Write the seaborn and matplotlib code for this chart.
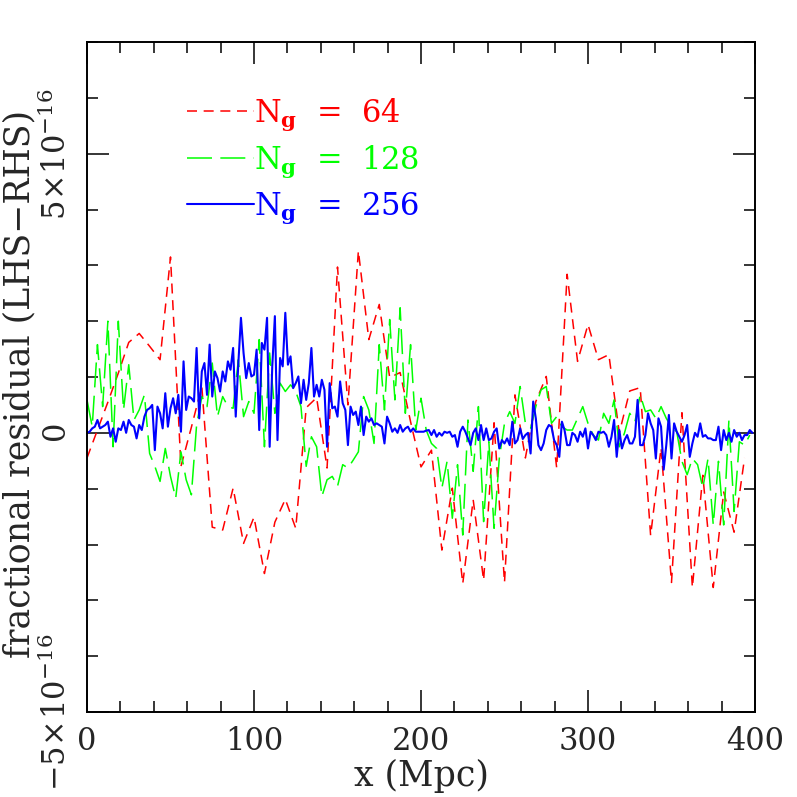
import numpy as np
import pandas as pd
import matplotlib
matplotlib.use("Agg")
import matplotlib.pyplot as plt
from matplotlib.ticker import MultipleLocator
import seaborn as sns

# ---- data (values in units of 1e-16) ----
x_max = 400.0
red_64 = [-0.45, 0.05, 0.55, 1.07, 1.62, 1.78, 1.55, 1.31, 3.15, -0.6,
          0.1, 0.83, -1.69, -1.74, -0.99, -1.98, -1.51, -2.52, -1.6, -1.19,
          -1.71, 0.45, 0.63, -0.63, 2.97, 0.5, 3.26, 1.67, 2.3, 0.99,
          1.08, 0.2, -0.61, -0.31, -2.1, -0.99, -2.7, -1.2, -2.64, 0.18,
          -2.68, 0.68, -0.45, 0.56, 1.01, -0.63, 2.84, 1.28, 1.94, 1.31,
          1.4, 0.0, 0.75, 0.81, -1.84, -0.27, -2.68, 0.36, -2.77, -0.76,
          -2.77, -1.06, -1.78, -0.45]
green_128 = [0.59, 0.11, 1.58, 0.47, 2.0, -0.25, 2.0, 0.41, 1.22, 0.23,
             0.41, 0.68, -0.37, -0.6, -0.87, -0.28, -0.78, -1.17, -0.34, -0.84,
             -1.11, 0.14, 0.65, 0.47, 1.25, 0.29, 0.65, 0.47, 0.44, 1.31,
             0.29, 0.56, 0.35, 1.67, -0.25, 1.43, 0.35, 0.89, 0.74, 0.86,
             0.74, 0.47, -0.6, -0.07, -0.25, -1.14, -0.84, -0.78, -0.96, -0.57,
             -0.63, -0.49, -0.34, 0.65, 0.41, -0.19, 1.58, 0.41, 2.03, 0.59,
             2.24, 0.35, 1.58, 0.05, 0.62, 0.05, -0.19, -0.28, -0.99, -0.51,
             -1.53, -0.57, -1.83, 0.23, -0.69, 0.47, -1.59, -0.16, -1.71, -0.46,
             0.17, 0.38, 0.17, 0.83, 0.17, 0.08, 0.47, 0.77, 0.83, 0.17,
             0.29, 0.11, 0.05, 0.05, 0.26, 0.47, 0.17, -0.04, -0.13, 0.35,
             0.17, 0.59, -0.25, 0.0, 0.35, 0.2, 0.68, 0.38, 0.41, 0.26,
             0.47, 0.26, 0.11, 0.02, -0.51, -0.75, -0.46, -0.57, -0.99, -0.46,
             -1.65, -0.51, -1.65, 0.23, -1.41, -0.16, -0.22, -0.04]
blue_256 = [0.0, 0.02, 0.08, 0.11, 0.23, 0.08, 0.11, 0.14, 0.2, -0.07,
            0.08, -0.16, 0.08, 0.05, 0.2, 0.0, 0.23, 0.14, 0.11, -0.1,
            0.14, 0.05, 0.29, 0.41, 0.44, 0.5, -0.31, 0.47, 0.35, 0.08,
            0.71, 0.11, 0.44, 0.62, 0.35, 0.68, 0.02, 1.28, 0.41, 0.65,
            0.62, 0.56, 1.52, 0.26, 1.1, 1.25, 0.68, 1.58, 0.65, 1.1,
            0.98, 0.74, 1.1, 0.92, 1.28, 1.13, 1.52, 0.29, 1.25, 2.06,
            1.43, 0.98, 1.25, 1.01, 1.04, 1.49, 0.05, 1.61, 1.49, 2.06,
            -0.25, 1.19, 2.09, -0.13, 1.34, 1.19, 2.15, 1.22, 1.37, 0.8,
            0.89, 1.01, 0.53, 0.95, 0.59, 0.89, 1.52, 0.65, 0.86, 0.65,
            0.95, 0.77, -0.25, 0.89, 0.44, 0.47, 0.29, 0.92, 0.53, 0.41,
            -0.22, 0.47, 0.32, 0.38, 0.14, 0.47, -0.04, 0.29, 0.2, 0.26,
            0.14, 0.17, 0.14, 0.11, -0.19, 0.29, 0.17, 0.02, 0.08, 0.0,
            0.14, 0.02, 0.08, 0.11, 0.02, 0.08, 0.02, 0.02, 0.02, 0.02,
            0.04, 0.05, -0.04, 0.05, -0.07, 0.0, -0.05, 0.02, 0.0, 0.02,
            -0.07, -0.04, -0.25, 0.02, 0.11, 0.02, -0.1, -0.22, 0.0, 0.08,
            -0.13, 0.14, -0.13, 0.08, -0.13, -0.1, 0.02, 0.08, -0.28, -0.13,
            -0.19, -0.1, -0.22, 0.2, -0.19, -0.13, 0.08, -0.11, -0.04, 0.0,
            -0.37, 0.56, 0.26, -0.22, -0.31, -0.19, 0.05, 0.14, 0.11, -0.13,
            -0.22, -0.43, 0.2, 0.05, -0.22, -0.22, 0.0, -0.04, -0.16, 0.02,
            -0.07, 0.08, -0.28, 0.02, -0.04, -0.13, 0.02, 0.0, 0.02, -0.04,
            -0.25, -0.07, 0.23, -0.43, 0.05, -0.28, -0.13, -0.04, -0.19, -0.19,
            -0.07, 0.59, -0.22, -0.22, -0.04, 0.35, 0.17, 0.05, -0.46, 0.26,
            0.11, -0.66, -0.22, 0.32, -0.46, 0.17, 0.02, -0.07, -0.16, -0.04,
            0.14, -0.43, -0.19, 0.0, -0.07, 0.17, -0.07, -0.04, -0.1, -0.1,
            -0.13, -0.13, 0.11, -0.31, 0.05, -0.13, 0.0, -0.16, 0.05, -0.07,
            0.0, -0.13, -0.04, -0.04, 0.05, 0.0]
scale = 1e-16
labels = [r"N$_{\mathbf{g}}$  =  64", r"N$_{\mathbf{g}}$  =  128", r"N$_{\mathbf{g}}$  =  256"]
ytick_vals = [-5e-16, 0.0, 5e-16]
ytick_labels = [r"$-5\!\times\!10^{-16}$", r"$0$", r"$5\!\times\!10^{-16}$"]
xtick_vals = [0, 100, 200, 300, 400]

def grid_x(n):
    return np.arange(n) * (x_max / n)

# ---- style ----
sns.set_style("ticks")
plt.rcParams["font.family"] = ["DejaVu Serif"]
plt.rcParams["mathtext.fontset"] = "dejavuserif"
plt.rcParams["lines.scale_dashes"] = False

fig = plt.figure(figsize=(7.97, 7.97), dpi=100)
ax = fig.add_axes([87/797, 1-712/797, (755-87)/797, (712-42)/797])

series = [
    (red_64, "#ff0000", (0, (7.2, 4.8)), 1.1, labels[0]),
    (green_128, "#00ff00", (0, (18.0, 6.0)), 1.1, labels[1]),
    (blue_256, "#0000ff", "-", 1.5, labels[2]),
]
for vals, col, ls, lw, lab in series:
    df = pd.DataFrame({"x": grid_x(len(vals)), "y": np.array(vals) * scale})
    sns.lineplot(data=df, x="x", y="y", ax=ax, color=col, linestyle=ls,
                 linewidth=lw, label=lab, estimator=None, sort=False)

ax.set_xlim(0, 400)
ax.set_ylim(-5e-16, 7e-16)
ax.set_xticks(xtick_vals)
ax.xaxis.set_minor_locator(MultipleLocator(20))
ax.set_yticks(ytick_vals)
ax.set_yticklabels(ytick_labels, rotation=90, va="center")
ax.yaxis.set_minor_locator(MultipleLocator(1e-16))

for s in ax.spines.values():
    s.set_linewidth(1.4)
    s.set_color("black")
ax.tick_params(which="both", direction="in", top=True, right=True, color="black", width=1.1)
ax.tick_params(which="major", length=16)
ax.tick_params(which="minor", length=8)
ax.tick_params(axis="x", which="major", labelsize=22, pad=10)
ax.tick_params(axis="y", which="major", labelsize=22, pad=10)

ax.set_xlabel("x (Mpc)", fontsize=25)
ax.set_ylabel("fractional residual (LHS\u2212RHS)", fontsize=25)
ax.xaxis.set_label_coords(0.5, -0.07)
ax.yaxis.set_label_coords(-0.076, 0.49)

leg = ax.legend(loc="upper left", bbox_to_anchor=(0.15, 0.918), frameon=False,
                fontsize=22, labelcolor="linecolor", handlelength=2.2,
                handletextpad=0.0, labelspacing=0.35, borderpad=0, borderaxespad=0)

fig.savefig("out.png", dpi=100)
